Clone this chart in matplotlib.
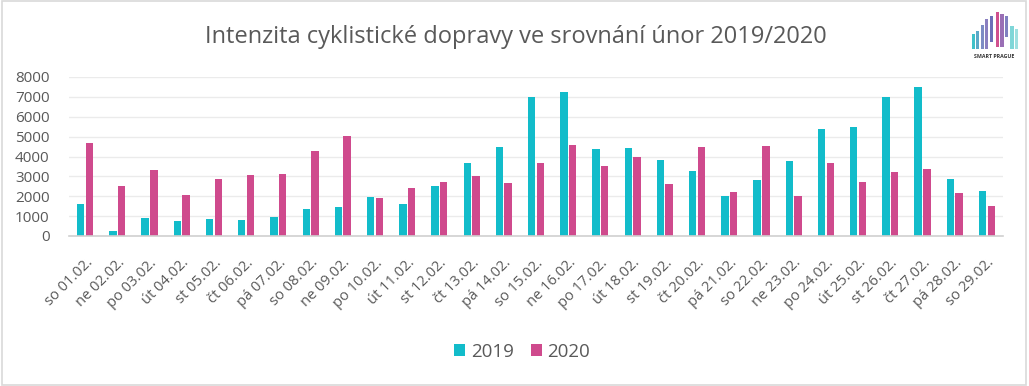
import matplotlib
matplotlib.use("Agg")
import matplotlib.pyplot as plt
import numpy as np
from matplotlib.patches import Rectangle

plt.rcParams['font.family'] = ['Open Sans', 'DejaVu Sans']

days = ["so 01.02.", "ne 02.02.", "po 03.02.", "út 04.02.", "st 05.02.", "čt 06.02.",
        "pá 07.02.", "so 08.02.", "ne 09.02.", "po 10.02.", "út 11.02.", "st 12.02.",
        "čt 13.02.", "pá 14.02.", "so 15.02.", "ne 16.02.", "po 17.02.", "út 18.02.",
        "st 19.02.", "čt 20.02.", "pá 21.02.", "so 22.02.", "ne 23.02.", "po 24.02.",
        "út 25.02.", "st 26.02.", "čt 27.02.", "pá 28.02.", "so 29.02."]
v2019 = [1620, 250, 910, 760, 860, 810, 960, 1360, 1460, 1970, 1610, 2520, 3680, 4490,
         7010, 7260, 4390, 4440, 3830, 3280, 2020, 2820, 3780, 5390, 5500, 7010, 7510,
         2870, 2270]
v2020 = [4700, 2520, 3330, 2070, 2870, 3080, 3130, 4290, 5040, 1920, 2420, 2720, 3030,
         2670, 3680, 4590, 3530, 3980, 2620, 4490, 2220, 4540, 2020, 3680, 2720, 3230,
         3380, 2170, 1510]
yticks = [0, 1000, 2000, 3000, 4000, 5000, 6000, 7000, 8000]
series_names = ["2019", "2020"]
title = "Intenzita cyklistické dopravy ve srovnání únor 2019/2020"

c19 = "#12BCCA"
c20 = "#CF4A8D"
txt = "#595959"

fig = plt.figure(figsize=(10.29, 3.86), dpi=100)
ax = fig.add_axes([69/1029, 1-236/386, (1003-69)/1029, (236-77)/386])

x = np.arange(len(days))
w = 0.23
ax.bar(x - 0.135, v2019, w, color=c19, label=series_names[0], zorder=3)
ax.bar(x + 0.135, v2020, w, color=c20, label=series_names[1], zorder=3)

ax.set_xlim(-0.5, len(days) - 0.5)
ax.set_ylim(0, 8000)
ax.set_yticks(yticks)
ax.set_yticklabels([str(t) for t in yticks], fontsize=11, color=txt)
ax.yaxis.grid(True, color="#EBEBEB", linewidth=1.0, zorder=0)
ax.set_xticks(x)
ax.set_xticklabels(days, rotation=45, ha="right", va="top", fontsize=10.5, color=txt,
                   rotation_mode="anchor")
ax.tick_params(axis="both", length=0)
ax.tick_params(axis="y", pad=14)
ax.tick_params(axis="x", pad=14)
for s in ["top", "right", "left"]:
    ax.spines[s].set_visible(False)
ax.spines["bottom"].set_color("#D0D0D0")
ax.spines["bottom"].set_linewidth(1.2)
ax.spines["bottom"].set_zorder(4)

fig.text(516/1029, 1-37/386, title, ha="center", va="center", fontsize=17, color=txt)

leg = fig.legend(loc="center", bbox_to_anchor=(522/1029, 1-352/386), ncol=2,
                 frameon=False, fontsize=13.5, handlelength=0.6, handleheight=0.6,
                 handletextpad=0.3, columnspacing=0.9)
for t in leg.get_texts():
    t.set_color(txt)

# figure border
fig.patches.append(Rectangle((0.002, 0.003), 0.995, 0.994, transform=fig.transFigure,
                             fill=False, edgecolor="#D9D9D9", linewidth=1.2))

# logo (decorative)
lax = fig.add_axes([966/1029, 1-62/386, 56/1029, 50/386])
lax.set_xlim(0, 10)
lax.set_ylim(0, 10)
lax.axis("off")
logo_bars = [(1.0, 2.6, 3.0, "#3FC1C9"), (1.8, 2.6, 3.6, "#5AA9C8"), (2.6, 2.6, 4.8, "#7D8CC4"),
             (3.4, 2.6, 6.0, "#8A7FC0"), (4.2, 4.0, 5.2, "#6C6FB8"), (5.3, 3.0, 7.0, "#D0508E"),
             (6.1, 3.0, 6.6, "#9A6FB5"), (6.9, 5.0, 4.2, "#8080C0"), (7.9, 2.6, 4.6, "#7FD6D8"),
             (8.7, 2.6, 4.0, "#9EDFE0")]
for bx, by, bh, bc in logo_bars:
    lax.add_patch(Rectangle((bx, by), 0.6, bh, color=bc, lw=0))
lax.text(5, 1.0, "SMART PRAGUE", ha="center", va="center", fontsize=3.8,
         fontweight="bold", color="#333333")

fig.savefig("out.png", dpi=100, facecolor="white")
